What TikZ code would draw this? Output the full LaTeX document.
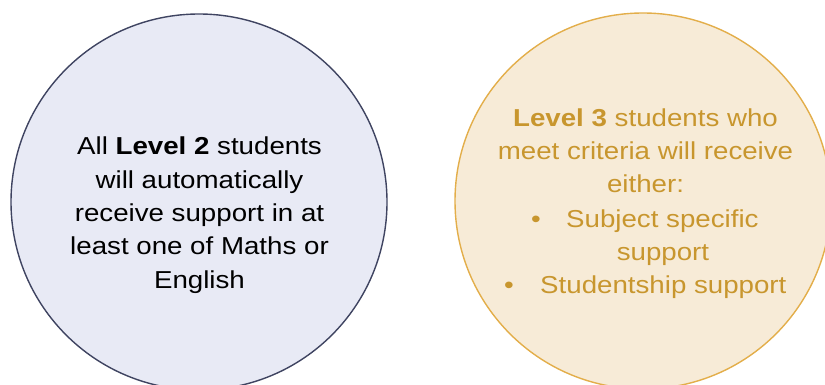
\documentclass[tikz,border=0pt]{standalone}
\usepackage{fontspec}
\setmainfont{Liberation Sans}[FakeStretch=1.13]
\usetikzlibrary{positioning}
\definecolor{navyline}{HTML}{3F4461}
\definecolor{lavfill}{HTML}{E8EAF5}
\definecolor{goldline}{HTML}{E3AE4A}
\definecolor{creamfill}{HTML}{F7EBD7}
\definecolor{goldtext}{HTML}{C8962E}
\tikzset{
  bubble/.style={circle, minimum size=376pt, inner sep=0pt, line width=1.4pt},
  blurb/.style={anchor=base, inner sep=0pt, font=\fontsize{24.5}{33.3}\selectfont}
}

\begin{document}
\begin{tikzpicture}[x=1pt,y=-1pt]
  \useasboundingbox (0,0) rectangle (825,385);

  % Level 2 circle
  \path (199,202) node[bubble, draw=navyline, fill=lavfill] (lvltwo) {};
  \foreach \txt [count=\i] in {All \textbf{Level 2} students,
    will automatically, receive support in at, least one of Maths or, English} {
    \path (199.5, 155 + 33.3*\i - 33.3) node[blurb] (lvltwo-\i) {\txt};
  }

  % Level 3 circle
  \path (643,201) node[bubble, draw=goldline, fill=creamfill] (lvlthree) {};
  \path (645.5,127) node[blurb, goldtext] (lvlthree-1) {\textbf{Level 3} students who};
  \path (645.5,160) node[blurb, goldtext] (lvlthree-2) {meet criteria will receive};
  \path (645.5,193) node[blurb, goldtext] (lvlthree-3) {either:};

  % bullets
  \path (536,227) node[blurb, goldtext] (dotone) {\textbullet};
  \path (566,227) node[blurb, anchor=base west, goldtext] (subject) {Subject specific};
  \path (663,260) node[blurb, goldtext] (subjecttwo) {support};
  \path (509,293) node[blurb, goldtext] (dottwo) {\textbullet};
  \path (540,293) node[blurb, anchor=base west, goldtext] (studentship) {Studentship support};
\end{tikzpicture}
\end{document}
